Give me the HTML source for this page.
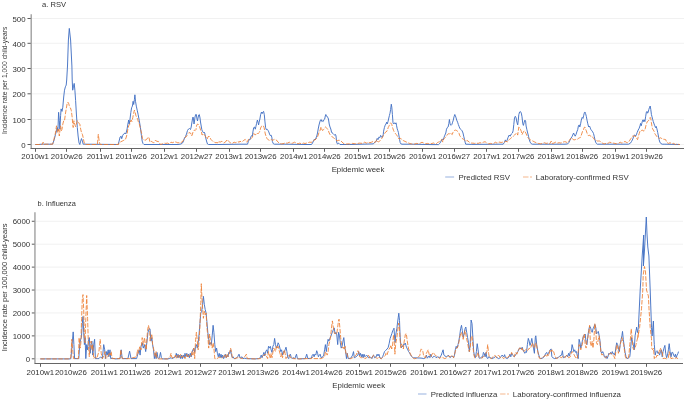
<!DOCTYPE html>
<html><head><meta charset="utf-8"><style>
html,body{margin:0;padding:0;background:#fff;}
svg{display:block;}
</style></head><body>
<svg width="685" height="400" viewBox="0 0 685 400" font-family='"Liberation Sans", sans-serif' fill="#333333">
<rect width="685" height="400" fill="#fff"/>
<text x="42.00" y="7.00" font-size="7.1" textLength="24.07" lengthAdjust="spacingAndGlyphs">a. RSV</text>
<line x1="32" y1="144.50" x2="684" y2="144.50" stroke="#eeeeee" stroke-width="0.8"/>
<line x1="32" y1="119.50" x2="684" y2="119.50" stroke="#eeeeee" stroke-width="0.8"/>
<line x1="32" y1="93.80" x2="684" y2="93.80" stroke="#eeeeee" stroke-width="0.8"/>
<line x1="32" y1="68.50" x2="684" y2="68.50" stroke="#eeeeee" stroke-width="0.8"/>
<line x1="32" y1="43.30" x2="684" y2="43.30" stroke="#eeeeee" stroke-width="0.8"/>
<line x1="32" y1="18.50" x2="684" y2="18.50" stroke="#eeeeee" stroke-width="0.8"/>
<line x1="27.5" y1="144.50" x2="31" y2="144.50" stroke="#333" stroke-width="0.8"/>
<text x="25.60" y="147.70" font-size="8.0" text-anchor="end" textLength="4.36" lengthAdjust="spacingAndGlyphs">0</text>
<line x1="27.5" y1="119.50" x2="31" y2="119.50" stroke="#333" stroke-width="0.8"/>
<text x="25.60" y="122.70" font-size="8.0" text-anchor="end" textLength="13.09" lengthAdjust="spacingAndGlyphs">100</text>
<line x1="27.5" y1="93.80" x2="31" y2="93.80" stroke="#333" stroke-width="0.8"/>
<text x="25.60" y="97.00" font-size="8.0" text-anchor="end" textLength="13.09" lengthAdjust="spacingAndGlyphs">200</text>
<line x1="27.5" y1="68.50" x2="31" y2="68.50" stroke="#333" stroke-width="0.8"/>
<text x="25.60" y="71.70" font-size="8.0" text-anchor="end" textLength="13.09" lengthAdjust="spacingAndGlyphs">300</text>
<line x1="27.5" y1="43.30" x2="31" y2="43.30" stroke="#333" stroke-width="0.8"/>
<text x="25.60" y="46.50" font-size="8.0" text-anchor="end" textLength="13.09" lengthAdjust="spacingAndGlyphs">400</text>
<line x1="27.5" y1="18.50" x2="31" y2="18.50" stroke="#333" stroke-width="0.8"/>
<text x="25.60" y="21.70" font-size="8.0" text-anchor="end" textLength="13.09" lengthAdjust="spacingAndGlyphs">500</text>
<line x1="31.2" y1="14.2" x2="31.2" y2="148.5" stroke="#999" stroke-width="1.3"/>
<line x1="30.5" y1="148.5" x2="684" y2="148.5" stroke="#666" stroke-width="1"/>
<line x1="35.5" y1="148.5" x2="35.5" y2="151.8" stroke="#606060" stroke-width="1"/>
<text x="35.10" y="159.00" font-size="7.8" text-anchor="middle" textLength="27.48" lengthAdjust="spacingAndGlyphs">2010w1</text>
<line x1="66.5" y1="148.5" x2="66.5" y2="151.8" stroke="#606060" stroke-width="1"/>
<text x="66.70" y="159.00" font-size="7.8" text-anchor="middle" textLength="31.84" lengthAdjust="spacingAndGlyphs">2010w26</text>
<line x1="100.5" y1="148.5" x2="100.5" y2="151.8" stroke="#606060" stroke-width="1"/>
<text x="100.10" y="159.00" font-size="7.8" text-anchor="middle" textLength="26.90" lengthAdjust="spacingAndGlyphs">2011w1</text>
<line x1="131.5" y1="148.5" x2="131.5" y2="151.8" stroke="#606060" stroke-width="1"/>
<text x="131.20" y="159.00" font-size="7.8" text-anchor="middle" textLength="31.26" lengthAdjust="spacingAndGlyphs">2011w26</text>
<line x1="164.5" y1="148.5" x2="164.5" y2="151.8" stroke="#606060" stroke-width="1"/>
<text x="164.30" y="159.00" font-size="7.8" text-anchor="middle" textLength="27.48" lengthAdjust="spacingAndGlyphs">2012w1</text>
<line x1="196.5" y1="148.5" x2="196.5" y2="151.8" stroke="#606060" stroke-width="1"/>
<text x="196.80" y="159.00" font-size="7.8" text-anchor="middle" textLength="31.84" lengthAdjust="spacingAndGlyphs">2012w27</text>
<line x1="229.5" y1="148.5" x2="229.5" y2="151.8" stroke="#606060" stroke-width="1"/>
<text x="229.10" y="159.00" font-size="7.8" text-anchor="middle" textLength="27.48" lengthAdjust="spacingAndGlyphs">2013w1</text>
<line x1="260.5" y1="148.5" x2="260.5" y2="151.8" stroke="#606060" stroke-width="1"/>
<text x="260.60" y="159.00" font-size="7.8" text-anchor="middle" textLength="31.84" lengthAdjust="spacingAndGlyphs">2013w26</text>
<line x1="293.5" y1="148.5" x2="293.5" y2="151.8" stroke="#606060" stroke-width="1"/>
<text x="293.80" y="159.00" font-size="7.8" text-anchor="middle" textLength="27.48" lengthAdjust="spacingAndGlyphs">2014w1</text>
<line x1="324.5" y1="148.5" x2="324.5" y2="151.8" stroke="#606060" stroke-width="1"/>
<text x="324.80" y="159.00" font-size="7.8" text-anchor="middle" textLength="31.84" lengthAdjust="spacingAndGlyphs">2014w26</text>
<line x1="358.5" y1="148.5" x2="358.5" y2="151.8" stroke="#606060" stroke-width="1"/>
<text x="358.00" y="159.00" font-size="7.8" text-anchor="middle" textLength="27.48" lengthAdjust="spacingAndGlyphs">2015w1</text>
<line x1="389.5" y1="148.5" x2="389.5" y2="151.8" stroke="#606060" stroke-width="1"/>
<text x="389.60" y="159.00" font-size="7.8" text-anchor="middle" textLength="31.84" lengthAdjust="spacingAndGlyphs">2015w26</text>
<line x1="422.5" y1="148.5" x2="422.5" y2="151.8" stroke="#606060" stroke-width="1"/>
<text x="422.70" y="159.00" font-size="7.8" text-anchor="middle" textLength="27.48" lengthAdjust="spacingAndGlyphs">2016w1</text>
<line x1="454.5" y1="148.5" x2="454.5" y2="151.8" stroke="#606060" stroke-width="1"/>
<text x="454.30" y="159.00" font-size="7.8" text-anchor="middle" textLength="31.84" lengthAdjust="spacingAndGlyphs">2016w27</text>
<line x1="486.5" y1="148.5" x2="486.5" y2="151.8" stroke="#606060" stroke-width="1"/>
<text x="487.00" y="159.00" font-size="7.8" text-anchor="middle" textLength="27.48" lengthAdjust="spacingAndGlyphs">2017w1</text>
<line x1="518.5" y1="148.5" x2="518.5" y2="151.8" stroke="#606060" stroke-width="1"/>
<text x="518.50" y="159.00" font-size="7.8" text-anchor="middle" textLength="31.84" lengthAdjust="spacingAndGlyphs">2017w26</text>
<line x1="551.5" y1="148.5" x2="551.5" y2="151.8" stroke="#606060" stroke-width="1"/>
<text x="551.20" y="159.00" font-size="7.8" text-anchor="middle" textLength="27.48" lengthAdjust="spacingAndGlyphs">2018w1</text>
<line x1="582.5" y1="148.5" x2="582.5" y2="151.8" stroke="#606060" stroke-width="1"/>
<text x="582.30" y="159.00" font-size="7.8" text-anchor="middle" textLength="31.84" lengthAdjust="spacingAndGlyphs">2018w26</text>
<line x1="615.5" y1="148.5" x2="615.5" y2="151.8" stroke="#606060" stroke-width="1"/>
<text x="615.90" y="159.00" font-size="7.8" text-anchor="middle" textLength="27.48" lengthAdjust="spacingAndGlyphs">2019w1</text>
<line x1="646.5" y1="148.5" x2="646.5" y2="151.8" stroke="#606060" stroke-width="1"/>
<text x="647.00" y="159.00" font-size="7.8" text-anchor="middle" textLength="31.84" lengthAdjust="spacingAndGlyphs">2019w26</text>
<text x="358.00" y="172.00" font-size="7.4" text-anchor="middle" textLength="52.75" lengthAdjust="spacingAndGlyphs">Epidemic week</text>
<text transform="translate(7.10,80.35) rotate(-90)" font-size="6.75" text-anchor="middle" textLength="107.31" lengthAdjust="spacingAndGlyphs">Incidence rate per 1,000 child-years</text>
<polyline points="35.3,144.5 38.8,144.5 42.3,144.1 45.0,144.2 52.6,144.2 54.3,139.4 55.5,134.3 56.5,130.9 57.2,127.5 57.9,130.9 58.6,112.3 59.3,120.7 59.9,129.2 60.6,115.7 61.1,108.9 62.0,111.4 62.8,107.2 63.7,97.0 64.5,90.2 65.4,86.8 66.2,85.1 66.7,80.0 67.5,66.0 68.4,40.0 69.3,28.4 70.6,40.0 71.9,66.0 72.2,80.0 72.7,90.2 73.4,86.8 74.2,83.4 74.9,90.2 75.6,100.4 76.4,114.0 77.3,127.5 78.1,136.0 79.0,142.8 79.8,144.5 80.7,141.1 81.5,138.6 82.4,141.1 83.2,144.2 84.9,144.2 118.1,144.5 118.9,141.9 120.1,137.0 121.1,136.2 121.7,138.7 122.7,135.4 123.8,133.8 125.0,133.0 125.9,133.8 127.1,128.9 127.9,124.0 128.7,120.0 129.2,124.0 129.8,120.8 130.8,112.6 131.6,107.8 132.4,106.1 133.1,101.3 133.7,104.5 134.4,99.6 134.9,94.8 135.5,101.3 136.3,106.1 137.2,110.2 138.1,114.3 139.3,120.8 140.4,127.3 141.4,135.4 142.2,141.1 143.0,143.5 144.0,144.5 150.0,144.5 178.0,144.5 181.0,144.0 182.5,143.0 183.5,141.0 184.5,138.0 185.5,136.5 186.5,134.0 187.5,130.5 188.5,129.0 189.5,128.5 190.5,129.5 191.2,127.0 191.8,123.0 192.5,119.0 193.0,117.0 193.5,119.0 194.0,124.0 194.5,121.0 195.0,117.0 195.7,114.5 196.3,114.5 197.0,119.0 197.5,121.0 198.0,118.0 198.7,115.0 199.3,114.5 200.0,118.0 200.5,122.0 201.2,126.0 201.8,129.5 202.5,131.5 203.2,132.5 204.0,132.0 204.7,133.0 205.3,136.0 206.0,139.0 206.8,142.0 207.5,144.0 208.5,144.5 217.9,144.5 240.0,144.2 247.5,144.2 248.4,141.5 249.1,139.4 249.9,139.9 250.7,137.2 251.6,135.6 252.4,136.1 252.9,131.9 253.7,127.6 254.5,127.0 255.3,129.2 255.9,126.5 256.6,123.3 257.4,120.0 258.0,122.2 258.6,124.9 259.1,122.2 259.9,119.0 260.6,114.7 261.5,112.0 262.2,113.6 262.9,112.0 263.6,111.4 264.3,114.7 264.9,121.1 265.6,127.6 266.3,129.7 267.1,129.2 267.9,130.2 268.8,131.9 269.5,134.0 270.3,135.6 271.1,135.1 271.8,137.2 272.4,141.5 273.3,143.7 274.4,144.2 284.9,144.2 305.0,144.5 311.5,144.5 312.5,143.0 313.5,141.0 314.5,139.0 315.2,140.0 316.0,138.0 316.8,136.0 317.5,133.0 318.2,129.0 319.0,125.0 319.8,122.0 320.5,120.0 321.2,119.5 321.8,121.5 322.5,121.0 323.2,121.5 324.0,119.5 324.7,119.0 325.3,116.0 325.8,114.5 326.5,115.5 327.2,117.0 328.0,117.5 328.6,120.0 329.2,124.0 330.0,127.0 330.8,129.0 331.5,132.0 332.2,133.0 333.0,133.5 333.8,134.5 334.6,135.0 335.5,134.5 336.0,136.0 336.5,141.0 337.0,143.5 337.8,144.0 338.5,143.0 339.2,143.5 340.0,144.5 349.9,144.5 373.4,143.9 375.0,142.0 376.2,141.4 377.2,138.4 378.0,139.6 378.8,137.2 379.8,137.8 380.6,135.4 381.6,137.2 382.4,137.2 383.2,134.8 383.6,131.2 384.4,127.6 385.2,125.2 386.0,124.0 386.6,122.2 387.2,124.0 388.0,121.6 388.8,118.0 389.4,115.6 390.0,113.2 390.6,109.6 391.3,104.2 391.8,107.2 392.4,114.4 393.0,122.8 393.6,124.0 394.2,123.4 394.8,122.8 395.4,124.0 396.0,122.8 396.6,125.8 397.2,128.8 397.8,130.6 398.4,132.4 399.0,136.0 399.6,139.6 400.2,142.6 400.8,143.8 402.0,144.2 411.9,144.2 432.0,144.6 438.5,144.6 439.5,143.7 440.6,142.1 441.7,140.0 442.5,138.9 443.3,140.0 444.0,137.3 444.9,135.1 445.8,133.0 446.5,129.2 447.3,127.6 448.1,127.0 448.9,123.3 449.4,119.5 450.0,123.3 450.5,124.9 451.1,125.4 451.9,124.4 452.6,122.2 453.3,120.1 454.0,116.8 454.8,114.5 455.4,115.8 456.1,117.9 456.7,120.1 457.6,122.2 458.3,124.4 459.1,126.5 459.7,128.1 460.5,129.2 461.2,129.7 462.1,130.8 463.0,133.0 463.7,136.2 464.5,139.4 465.1,142.1 465.7,144.2 471.9,144.4 500.0,144.2 503.2,144.2 504.3,142.6 505.4,139.9 506.2,141.6 507.0,140.5 508.1,137.3 509.1,135.1 510.2,136.2 511.3,134.0 512.4,133.0 513.1,130.8 513.8,124.4 514.5,117.9 515.3,116.3 516.1,117.9 516.9,122.2 517.7,124.9 518.3,120.1 518.8,114.7 519.6,112.0 520.4,111.5 521.3,113.1 522.0,116.8 522.8,123.8 523.4,125.4 524.2,122.2 524.9,120.1 525.6,121.1 526.1,126.0 526.9,129.7 527.7,133.0 528.5,136.2 529.2,139.4 530.1,142.1 531.2,143.7 532.3,144.2 539.9,144.2 565.0,144.2 567.7,143.9 568.8,142.6 569.8,140.5 570.9,138.3 572.0,136.7 572.7,135.1 573.6,133.0 574.5,135.1 575.2,136.2 576.0,134.6 576.8,131.9 577.7,129.7 578.4,126.0 579.2,124.9 579.8,127.0 580.6,123.8 581.3,120.1 582.2,117.4 583.0,118.4 583.6,115.8 584.4,112.5 585.0,112.0 585.6,113.6 586.3,116.3 587.0,120.1 587.8,123.8 588.7,127.0 589.5,126.0 590.3,128.1 591.0,129.7 591.9,130.8 592.7,131.9 593.5,133.5 594.2,136.2 594.9,139.4 595.6,142.1 596.4,143.5 597.3,144.2 604.9,144.2 625.0,144.2 628.6,144.2 630.4,143.2 631.6,141.4 632.8,139.0 633.6,136.6 634.6,134.8 635.6,136.0 636.4,134.8 637.2,132.4 638.2,130.0 639.2,128.2 640.0,125.8 640.6,123.4 641.2,125.8 641.8,123.4 642.4,121.0 643.0,119.8 643.6,121.6 644.2,119.8 644.9,121.6 645.6,116.8 646.4,112.0 647.0,111.4 647.6,113.2 648.2,112.0 648.8,109.6 649.6,107.2 650.2,106.0 650.8,109.6 651.4,114.4 652.0,116.8 652.6,119.2 653.3,121.6 654.1,124.0 654.8,125.8 655.5,127.6 656.2,126.4 656.9,128.8 657.7,132.4 658.4,136.0 659.1,139.6 659.8,142.0 660.8,143.5 662.2,144.2 664.9,144.2 679.8,144.5" fill="none" stroke="#4472C4" stroke-width="0.95" stroke-linejoin="round"/>
<polyline points="35.3,144.5 42.3,144.5 43.1,142.2 44.0,144.5 45.0,144.2 52.6,144.2 53.5,141.1 54.3,137.7 55.2,134.3 56.0,129.2 56.5,125.8 57.2,130.9 57.9,132.6 58.6,129.2 59.3,136.0 59.9,130.9 60.6,125.8 61.3,130.9 62.0,129.2 62.8,124.1 63.7,120.7 64.5,120.7 65.4,114.0 66.2,108.9 67.1,103.8 67.9,102.1 68.8,103.8 69.6,107.2 70.5,108.0 71.3,110.6 72.2,117.4 72.7,124.1 73.2,127.5 73.9,120.7 74.7,124.1 75.6,126.7 76.4,124.1 77.3,120.7 78.1,121.6 79.0,123.3 79.8,124.1 80.7,129.2 81.5,132.6 82.4,134.3 83.2,137.7 84.0,142.0 84.9,144.2 86.1,144.5 97.4,144.5 98.3,134.3 99.2,141.3 100.1,144.5 118.5,144.5 119.0,142.7 120.6,141.9 122.2,141.1 123.8,140.3 125.4,139.5 126.3,137.0 127.1,133.8 127.9,128.9 128.7,125.7 129.5,124.8 130.3,122.4 131.1,120.0 131.9,121.6 132.8,117.5 133.6,113.5 134.4,110.2 135.2,112.6 136.0,115.9 136.8,117.5 137.6,119.1 138.5,122.4 139.3,124.0 140.1,127.3 140.9,130.5 141.7,133.8 142.5,138.7 143.3,139.5 145.0,140.3 146.6,139.5 148.2,137.0 149.0,137.8 150.0,142.2 151.8,141.3 153.5,143.1 155.3,140.4 157.0,141.3 158.8,141.7 160.5,144.5 162.3,143.9 164.0,143.1 165.8,143.4 167.5,143.1 169.3,143.9 171.0,142.2 172.8,142.7 174.5,141.7 176.3,142.2 178.0,143.0 179.0,142.5 180.0,143.0 181.0,142.5 182.0,142.0 183.0,141.0 184.0,139.0 185.0,137.5 186.0,137.0 187.0,135.5 188.0,133.5 189.0,132.5 190.0,133.0 191.0,133.5 191.5,136.0 192.2,135.0 193.0,132.0 193.8,131.0 194.5,130.0 195.2,130.5 196.0,129.5 196.5,126.0 197.0,124.5 197.8,124.0 198.5,125.0 199.2,126.0 200.0,128.0 200.7,130.5 201.5,132.0 202.0,135.0 202.8,134.5 203.5,133.5 204.2,134.5 205.0,135.5 205.8,137.0 206.5,138.0 207.2,139.0 208.0,137.0 208.8,136.0 209.5,137.0 210.2,138.0 211.0,139.5 212.0,140.5 213.0,141.5 214.0,142.0 215.0,142.5 216.0,142.8 217.0,142.5 217.9,143.0 218.3,141.3 220.1,142.2 221.8,141.3 223.6,143.1 225.3,142.2 227.1,139.6 228.8,141.3 230.6,143.1 232.3,143.4 234.1,142.2 235.8,142.7 237.6,141.7 239.3,142.2 240.0,141.0 241.1,142.1 242.1,141.6 243.2,141.0 244.3,139.9 245.2,139.4 245.9,140.4 246.7,142.1 247.5,141.6 248.4,139.4 249.1,139.9 250.2,139.4 251.3,138.3 252.4,137.2 253.1,135.1 253.7,133.5 254.5,134.0 255.3,135.1 256.1,134.0 257.0,133.1 257.7,134.0 258.5,133.1 259.3,132.4 260.0,130.8 260.6,128.1 261.3,126.5 262.0,125.9 262.8,125.4 263.4,125.9 264.1,127.6 264.7,130.8 265.3,134.0 266.0,136.1 266.9,138.3 267.7,139.4 268.6,139.9 269.5,140.4 270.4,139.9 271.4,139.4 272.2,140.4 273.3,139.9 274.4,139.4 275.4,139.4 276.3,139.9 277.1,141.0 278.1,142.1 279.2,143.1 280.3,143.7 281.4,143.9 283.0,143.7 284.9,143.1 287.5,143.1 289.3,142.2 291.0,143.4 292.8,143.1 294.5,142.2 296.3,143.1 298.0,143.9 299.8,143.1 301.5,143.9 303.3,143.1 305.0,143.5 307.0,143.0 308.5,142.5 310.0,142.0 311.0,142.5 312.0,142.0 313.0,141.0 314.0,140.0 315.0,140.0 316.0,139.0 316.8,138.0 317.5,137.0 318.2,135.0 319.0,132.5 319.8,131.0 320.5,129.0 321.0,127.0 321.5,128.0 322.0,130.0 322.8,130.5 323.6,129.5 324.5,128.0 325.5,127.0 326.2,127.5 327.0,128.5 327.8,129.5 328.5,131.0 329.2,133.0 330.0,134.5 330.8,135.5 331.5,136.0 332.5,137.0 333.5,138.0 334.5,138.5 335.5,139.0 336.2,140.0 337.0,141.0 338.0,140.5 339.0,140.2 340.0,140.5 341.0,141.0 342.0,142.0 343.0,143.0 344.0,143.8 345.0,144.2 347.0,144.0 348.5,143.8 349.9,144.0 352.3,143.4 355.8,143.9 359.3,143.1 362.9,143.4 364.6,142.2 366.4,143.1 368.1,142.2 369.9,142.7 371.6,142.2 373.4,141.3 375.0,142.6 376.2,140.8 376.8,139.6 377.4,141.4 378.6,142.0 379.8,140.8 381.0,139.6 382.2,137.8 383.4,135.4 384.6,133.6 385.8,131.8 387.0,131.2 387.6,129.4 388.2,127.6 388.8,126.4 389.4,125.2 390.0,124.0 390.6,122.8 391.2,123.4 391.8,124.6 392.4,127.0 393.0,128.8 393.6,130.6 394.2,131.8 394.8,133.0 395.4,133.6 396.0,134.2 396.6,134.8 397.2,136.0 397.8,137.2 398.4,138.2 399.0,139.0 400.2,138.4 401.4,139.0 402.6,140.2 403.8,140.8 405.0,141.4 406.2,142.0 407.4,142.3 408.6,143.0 409.8,143.5 411.0,143.8 411.9,144.0 413.3,144.5 415.0,143.9 416.8,143.4 418.5,143.9 420.3,143.1 422.0,142.2 423.8,143.1 425.6,143.9 427.3,143.4 429.1,143.9 430.8,143.4 432.0,143.7 433.1,142.8 434.2,143.5 435.2,143.2 436.3,143.7 437.4,142.6 438.5,142.1 439.5,141.6 440.6,140.5 441.7,139.4 442.8,142.1 443.6,139.4 444.4,138.3 445.4,137.3 446.5,136.2 447.3,134.6 448.1,134.0 449.0,133.5 449.7,134.0 450.5,133.0 451.4,134.0 452.2,134.6 453.0,132.4 454.0,130.8 454.8,130.3 455.7,130.1 456.7,130.6 457.6,131.3 458.3,131.9 459.1,133.5 459.7,135.6 460.5,136.7 461.2,137.3 462.1,138.3 463.0,139.2 463.7,139.4 464.8,140.3 465.9,141.6 466.9,140.5 468.0,141.0 469.1,142.1 470.2,142.6 471.9,143.2 472.9,143.1 474.6,143.4 476.4,143.1 478.1,143.4 479.9,142.7 481.6,143.1 483.4,142.2 485.1,141.7 486.9,143.1 488.6,143.9 490.4,143.4 492.1,143.9 493.9,143.4 495.3,142.2 497.0,143.1 498.8,142.2 500.0,142.1 501.1,142.6 502.2,142.1 503.2,142.6 504.3,142.1 505.4,141.6 506.2,141.0 507.0,142.1 507.7,141.6 508.6,140.0 509.5,139.4 510.2,138.9 511.3,137.8 512.4,137.3 513.4,136.2 514.5,135.1 515.6,134.0 516.3,133.0 517.2,133.5 517.7,135.1 518.3,130.8 518.8,127.0 519.6,127.6 520.4,129.2 521.3,131.3 522.0,134.6 522.8,133.0 523.7,131.3 524.5,130.8 525.3,131.9 526.0,133.5 526.9,135.6 527.7,137.3 528.5,138.3 529.6,139.4 530.6,140.0 531.7,140.5 532.8,141.0 533.9,141.6 534.9,142.1 536.0,142.6 537.1,143.2 538.7,143.5 539.9,143.7 540.8,143.9 542.6,143.4 544.3,142.7 546.1,143.4 547.8,143.1 549.6,143.9 551.3,141.0 552.2,143.4 553.9,143.1 555.7,142.2 557.4,143.1 559.2,142.7 561.0,143.1 562.7,142.2 564.5,141.7 565.0,141.6 566.1,142.1 567.2,142.6 568.2,142.1 569.3,140.5 570.4,138.9 571.2,137.8 572.0,138.3 573.1,139.4 574.1,140.0 575.2,139.4 576.3,140.0 577.4,139.4 578.4,138.3 579.5,137.8 580.6,137.3 581.3,135.1 582.0,133.0 582.7,130.8 583.5,129.7 584.1,127.6 584.9,127.0 585.6,129.2 586.3,130.8 587.0,133.0 587.8,135.1 588.7,135.6 589.5,135.1 590.3,136.2 591.0,135.6 591.9,136.2 592.7,137.3 593.5,138.3 594.2,139.4 595.1,140.0 596.2,140.5 597.3,141.0 598.3,141.0 599.4,141.0 600.5,141.6 601.6,142.6 602.6,143.2 603.7,143.7 604.9,143.9 606.2,143.1 607.9,143.4 609.7,142.2 611.4,142.7 613.2,143.1 614.9,143.4 616.7,143.9 618.4,143.4 620.2,142.2 621.9,143.1 623.7,142.2 625.0,141.4 626.2,142.3 627.4,142.6 628.6,142.0 629.8,140.2 631.0,138.4 632.0,136.6 632.8,136.0 634.0,136.0 635.2,136.0 636.0,137.2 636.8,139.0 637.6,139.6 638.4,136.0 639.2,133.6 640.0,131.2 640.8,130.0 641.8,130.6 642.8,130.0 643.6,131.2 644.4,130.6 645.2,128.8 646.0,125.2 646.6,123.4 647.3,121.6 648.0,121.0 648.8,120.4 649.6,119.2 650.2,117.4 650.8,118.6 651.4,122.8 652.0,126.4 652.6,128.8 653.3,130.0 654.1,131.2 654.8,133.6 655.6,134.8 656.5,136.0 657.4,137.2 658.4,137.8 659.3,138.4 660.4,137.8 661.6,138.4 662.8,139.6 664.0,139.0 664.9,139.6 665.7,139.6 666.6,142.2 668.4,143.4 670.1,142.7 671.9,143.9 673.6,143.4 675.4,144.5 677.1,143.9 678.9,144.5 679.8,144.5" fill="none" stroke="#ED7D31" stroke-width="0.85" stroke-dasharray="4.5 1.5" stroke-linejoin="round"/>
<line x1="445.2" y1="177" x2="454.1" y2="177" stroke="#4472C4" stroke-width="1" stroke-opacity="0.55"/>
<text x="458.50" y="179.60" font-size="7.6" textLength="51.45" lengthAdjust="spacingAndGlyphs">Predicted RSV</text>
<line x1="523" y1="177" x2="528.5" y2="177" stroke="#ED7D31" stroke-width="1" stroke-opacity="0.55"/>
<line x1="530" y1="177" x2="532" y2="177" stroke="#ED7D31" stroke-width="1" stroke-opacity="0.55"/>
<text x="535.80" y="179.60" font-size="7.6" textLength="92.86" lengthAdjust="spacingAndGlyphs">Laboratory-confirmed RSV</text>
<text x="37.60" y="206.30" font-size="7.1" textLength="38.18" lengthAdjust="spacingAndGlyphs">b. Influenza</text>
<line x1="36" y1="358.80" x2="683" y2="358.80" stroke="#eeeeee" stroke-width="0.8"/>
<line x1="36" y1="335.88" x2="683" y2="335.88" stroke="#eeeeee" stroke-width="0.8"/>
<line x1="36" y1="312.96" x2="683" y2="312.96" stroke="#eeeeee" stroke-width="0.8"/>
<line x1="36" y1="290.04" x2="683" y2="290.04" stroke="#eeeeee" stroke-width="0.8"/>
<line x1="36" y1="267.12" x2="683" y2="267.12" stroke="#eeeeee" stroke-width="0.8"/>
<line x1="36" y1="244.20" x2="683" y2="244.20" stroke="#eeeeee" stroke-width="0.8"/>
<line x1="36" y1="221.28" x2="683" y2="221.28" stroke="#eeeeee" stroke-width="0.8"/>
<line x1="31.8" y1="358.80" x2="35" y2="358.80" stroke="#333" stroke-width="0.8"/>
<text x="30.20" y="361.80" font-size="8.0" text-anchor="end" textLength="4.36" lengthAdjust="spacingAndGlyphs">0</text>
<line x1="31.8" y1="335.88" x2="35" y2="335.88" stroke="#333" stroke-width="0.8"/>
<text x="30.20" y="338.88" font-size="8.0" text-anchor="end" textLength="17.45" lengthAdjust="spacingAndGlyphs">1000</text>
<line x1="31.8" y1="312.96" x2="35" y2="312.96" stroke="#333" stroke-width="0.8"/>
<text x="30.20" y="315.96" font-size="8.0" text-anchor="end" textLength="17.45" lengthAdjust="spacingAndGlyphs">2000</text>
<line x1="31.8" y1="290.04" x2="35" y2="290.04" stroke="#333" stroke-width="0.8"/>
<text x="30.20" y="293.04" font-size="8.0" text-anchor="end" textLength="17.45" lengthAdjust="spacingAndGlyphs">3000</text>
<line x1="31.8" y1="267.12" x2="35" y2="267.12" stroke="#333" stroke-width="0.8"/>
<text x="30.20" y="270.12" font-size="8.0" text-anchor="end" textLength="17.45" lengthAdjust="spacingAndGlyphs">4000</text>
<line x1="31.8" y1="244.20" x2="35" y2="244.20" stroke="#333" stroke-width="0.8"/>
<text x="30.20" y="247.20" font-size="8.0" text-anchor="end" textLength="17.45" lengthAdjust="spacingAndGlyphs">5000</text>
<line x1="31.8" y1="221.28" x2="35" y2="221.28" stroke="#333" stroke-width="0.8"/>
<text x="30.20" y="224.28" font-size="8.0" text-anchor="end" textLength="17.45" lengthAdjust="spacingAndGlyphs">6000</text>
<line x1="34.95" y1="212.2" x2="34.95" y2="363.5" stroke="#999" stroke-width="1.3"/>
<line x1="34.5" y1="363.5" x2="683" y2="363.5" stroke="#666" stroke-width="1"/>
<line x1="40.5" y1="363.5" x2="40.5" y2="366.8" stroke="#606060" stroke-width="1"/>
<text x="40.30" y="374.90" font-size="7.8" text-anchor="middle" textLength="27.48" lengthAdjust="spacingAndGlyphs">2010w1</text>
<line x1="70.5" y1="363.5" x2="70.5" y2="366.8" stroke="#606060" stroke-width="1"/>
<text x="70.90" y="374.90" font-size="7.8" text-anchor="middle" textLength="31.84" lengthAdjust="spacingAndGlyphs">2010w26</text>
<line x1="104.5" y1="363.5" x2="104.5" y2="366.8" stroke="#606060" stroke-width="1"/>
<text x="104.30" y="374.90" font-size="7.8" text-anchor="middle" textLength="26.90" lengthAdjust="spacingAndGlyphs">2011w1</text>
<line x1="135.5" y1="363.5" x2="135.5" y2="366.8" stroke="#606060" stroke-width="1"/>
<text x="135.10" y="374.90" font-size="7.8" text-anchor="middle" textLength="31.26" lengthAdjust="spacingAndGlyphs">2011w26</text>
<line x1="168.5" y1="363.5" x2="168.5" y2="366.8" stroke="#606060" stroke-width="1"/>
<text x="168.30" y="374.90" font-size="7.8" text-anchor="middle" textLength="27.48" lengthAdjust="spacingAndGlyphs">2012w1</text>
<line x1="200.5" y1="363.5" x2="200.5" y2="366.8" stroke="#606060" stroke-width="1"/>
<text x="200.60" y="374.90" font-size="7.8" text-anchor="middle" textLength="31.84" lengthAdjust="spacingAndGlyphs">2012w27</text>
<line x1="231.5" y1="363.5" x2="231.5" y2="366.8" stroke="#606060" stroke-width="1"/>
<text x="231.90" y="374.90" font-size="7.8" text-anchor="middle" textLength="27.48" lengthAdjust="spacingAndGlyphs">2013w1</text>
<line x1="262.5" y1="363.5" x2="262.5" y2="366.8" stroke="#606060" stroke-width="1"/>
<text x="262.90" y="374.90" font-size="7.8" text-anchor="middle" textLength="31.84" lengthAdjust="spacingAndGlyphs">2013w26</text>
<line x1="296.5" y1="363.5" x2="296.5" y2="366.8" stroke="#606060" stroke-width="1"/>
<text x="296.10" y="374.90" font-size="7.8" text-anchor="middle" textLength="27.48" lengthAdjust="spacingAndGlyphs">2014w1</text>
<line x1="326.5" y1="363.5" x2="326.5" y2="366.8" stroke="#606060" stroke-width="1"/>
<text x="326.70" y="374.90" font-size="7.8" text-anchor="middle" textLength="31.84" lengthAdjust="spacingAndGlyphs">2014w26</text>
<line x1="359.5" y1="363.5" x2="359.5" y2="366.8" stroke="#606060" stroke-width="1"/>
<text x="359.20" y="374.90" font-size="7.8" text-anchor="middle" textLength="27.48" lengthAdjust="spacingAndGlyphs">2015w1</text>
<line x1="390.5" y1="363.5" x2="390.5" y2="366.8" stroke="#606060" stroke-width="1"/>
<text x="390.70" y="374.90" font-size="7.8" text-anchor="middle" textLength="31.84" lengthAdjust="spacingAndGlyphs">2015w26</text>
<line x1="423.5" y1="363.5" x2="423.5" y2="366.8" stroke="#606060" stroke-width="1"/>
<text x="423.90" y="374.90" font-size="7.8" text-anchor="middle" textLength="27.48" lengthAdjust="spacingAndGlyphs">2016w1</text>
<line x1="455.5" y1="363.5" x2="455.5" y2="366.8" stroke="#606060" stroke-width="1"/>
<text x="455.60" y="374.90" font-size="7.8" text-anchor="middle" textLength="31.84" lengthAdjust="spacingAndGlyphs">2016w27</text>
<line x1="488.5" y1="363.5" x2="488.5" y2="366.8" stroke="#606060" stroke-width="1"/>
<text x="488.00" y="374.90" font-size="7.8" text-anchor="middle" textLength="27.48" lengthAdjust="spacingAndGlyphs">2017w1</text>
<line x1="518.5" y1="363.5" x2="518.5" y2="366.8" stroke="#606060" stroke-width="1"/>
<text x="518.50" y="374.90" font-size="7.8" text-anchor="middle" textLength="31.84" lengthAdjust="spacingAndGlyphs">2017w26</text>
<line x1="551.5" y1="363.5" x2="551.5" y2="366.8" stroke="#606060" stroke-width="1"/>
<text x="551.20" y="374.90" font-size="7.8" text-anchor="middle" textLength="27.48" lengthAdjust="spacingAndGlyphs">2018w1</text>
<line x1="582.5" y1="363.5" x2="582.5" y2="366.8" stroke="#606060" stroke-width="1"/>
<text x="582.30" y="374.90" font-size="7.8" text-anchor="middle" textLength="31.84" lengthAdjust="spacingAndGlyphs">2018w26</text>
<line x1="615.5" y1="363.5" x2="615.5" y2="366.8" stroke="#606060" stroke-width="1"/>
<text x="615.50" y="374.90" font-size="7.8" text-anchor="middle" textLength="27.48" lengthAdjust="spacingAndGlyphs">2019w1</text>
<line x1="646.5" y1="363.5" x2="646.5" y2="366.8" stroke="#606060" stroke-width="1"/>
<text x="646.30" y="374.90" font-size="7.8" text-anchor="middle" textLength="31.84" lengthAdjust="spacingAndGlyphs">2019w26</text>
<text x="358.70" y="387.70" font-size="7.4" text-anchor="middle" textLength="52.75" lengthAdjust="spacingAndGlyphs">Epidemic week</text>
<text transform="translate(7.10,287.40) rotate(-90)" font-size="7.5" text-anchor="middle" textLength="127.58" lengthAdjust="spacingAndGlyphs">Incidence rate per 100,000 child-years</text>
<polyline points="40.3,358.9 70.0,358.9 70.9,358.6 72.1,344.6 73.2,331.9 73.9,344.6 74.6,358.6 78.8,358.6 79.7,344.6 80.6,339.3 81.4,337.6 82.3,323.5 83.0,316.5 83.7,332.3 84.4,344.6 85.1,337.6 85.8,358.6 86.7,344.6 87.6,349.8 88.4,341.1 89.3,337.6 90.2,353.3 91.1,344.6 91.9,341.1 92.8,355.1 93.7,344.6 94.6,339.3 95.4,358.6 97.2,358.6 98.9,358.6 100.7,356.8 102.4,358.6 103.7,344.6 104.7,349.8 105.4,358.6 106.5,351.6 107.2,355.1 108.2,349.8 108.9,356.8 110.0,349.8 110.7,358.6 112.1,358.2 115.6,358.9 120.0,358.6 121.2,349.8 122.2,358.6 127.9,358.6 129.6,351.2 131.0,358.6 136.6,358.6 138.0,353.3 139.2,349.8 140.1,355.1 141.0,346.3 142.2,342.8 143.3,348.1 144.5,344.6 145.7,351.6 146.8,342.8 148.0,332.3 149.2,328.8 150.0,328.8 150.9,341.1 151.8,337.6 152.6,344.6 153.5,349.8 154.4,358.6 155.3,353.3 156.1,358.6 157.0,352.4 157.9,357.7 158.8,358.6 159.6,356.8 160.5,352.4 161.4,357.7 162.3,358.9 167.5,358.9 169.3,358.6 171.0,357.7 171.9,358.6 173.7,357.7 175.4,356.8 176.3,353.3 177.2,357.7 178.0,354.2 178.9,357.7 179.8,355.1 180.7,358.6 181.5,355.1 182.4,358.6 183.3,355.1 184.2,357.7 185.0,353.3 185.9,356.8 186.8,353.3 187.7,356.8 188.5,354.2 189.4,357.7 190.3,353.3 191.2,356.8 192.0,352.4 192.9,349.8 193.8,348.1 194.7,352.4 195.6,346.3 196.4,344.6 197.3,348.1 198.2,342.8 199.1,334.0 199.9,323.5 200.8,313.0 201.7,311.3 202.6,304.3 203.4,296.3 204.3,304.3 205.2,309.5 206.1,313.0 206.9,321.8 207.8,332.3 208.7,339.3 209.6,344.6 210.4,342.8 211.3,344.6 212.2,335.8 213.1,325.3 213.9,332.3 214.8,344.6 215.7,351.6 216.6,348.1 217.4,353.3 218.3,356.8 219.2,353.3 220.1,357.7 221.0,354.2 221.8,357.7 222.7,355.1 223.6,358.6 224.5,356.8 225.3,354.2 226.2,357.7 227.1,355.1 228.0,356.8 228.8,352.4 229.7,353.3 230.6,349.8 231.5,355.1 232.3,357.7 233.2,356.8 234.1,358.6 235.8,358.6 237.6,356.8 239.0,354.2 240.2,358.2 242.0,356.8 242.9,358.6 244.6,358.2 246.4,358.6 255.1,358.9 258.6,358.6 260.4,357.7 261.2,355.1 262.1,357.7 263.0,355.1 263.9,352.4 264.8,355.9 265.6,351.6 266.8,349.8 267.6,353.3 268.5,346.3 269.4,348.1 270.3,346.3 271.1,349.8 272.0,352.4 272.9,346.3 273.8,344.6 274.6,338.4 275.5,344.6 276.4,348.1 277.3,346.3 278.1,342.8 279.0,344.6 279.9,348.1 280.8,351.6 281.6,349.8 282.5,355.1 283.4,351.6 284.3,352.4 285.1,349.8 286.0,347.2 286.9,351.6 287.8,357.7 288.7,358.6 289.5,355.1 290.4,354.2 291.3,357.7 292.2,358.6 293.0,357.7 294.8,358.6 296.5,354.2 297.4,358.6 299.2,358.9 305.3,358.6 306.7,354.2 307.9,358.6 311.4,358.2 312.3,355.1 313.2,354.2 314.1,356.8 314.9,354.2 315.8,355.1 316.7,350.7 317.6,353.3 318.4,356.8 319.3,355.1 320.2,354.2 321.1,357.7 322.8,356.8 323.7,355.1 324.6,349.8 325.4,344.6 326.3,351.6 327.2,344.6 328.1,339.3 328.9,341.1 329.8,338.4 330.7,336.7 331.6,334.0 332.4,332.3 333.3,329.7 334.2,327.9 335.1,334.0 336.0,332.3 336.8,334.9 337.7,344.6 338.6,332.3 339.5,335.8 340.3,342.8 341.2,348.1 342.1,346.3 343.0,341.1 343.8,337.6 344.7,346.3 345.6,351.6 346.5,358.6 347.3,353.3 348.2,358.6 350.8,358.2 352.6,355.1 353.5,351.6 354.3,357.7 356.1,356.8 357.9,355.1 358.7,351.6 359.6,355.9 360.5,353.3 361.4,356.8 362.2,354.2 363.1,357.7 364.0,354.2 364.9,356.8 366.6,355.1 368.4,357.7 370.1,356.8 371.9,358.6 372.7,355.9 373.6,355.1 374.5,357.7 376.2,356.8 377.1,354.2 378.0,355.9 378.9,354.2 380.0,358.0 381.3,358.7 382.6,356.8 383.6,354.2 384.5,351.6 385.8,350.3 387.1,349.0 388.1,347.7 389.1,343.8 390.1,338.6 391.0,336.0 391.9,333.4 392.7,330.8 393.4,329.5 394.0,328.2 394.5,336.0 395.1,342.5 395.6,336.0 396.2,332.1 396.9,328.2 397.5,323.0 398.2,317.8 398.8,313.2 399.5,320.4 400.1,336.0 400.8,345.1 401.4,347.7 402.1,346.4 402.7,347.0 403.4,345.1 404.0,343.8 404.7,344.4 405.3,343.1 406.0,345.7 406.6,347.7 407.5,349.0 408.6,351.6 409.6,352.9 410.5,354.8 411.4,356.1 412.5,357.4 413.5,357.8 419.9,358.0 422.0,358.2 423.8,358.6 425.6,357.7 426.4,355.1 427.3,358.2 429.1,355.9 429.9,357.7 430.8,354.2 431.7,356.8 432.6,357.7 434.3,355.9 436.1,357.7 437.8,356.8 439.6,357.7 441.3,355.1 442.2,352.4 443.1,349.8 443.9,355.1 444.8,355.9 446.6,356.8 448.3,355.1 450.1,357.7 451.8,355.9 453.6,357.7 454.5,355.1 455.3,349.8 456.2,346.3 457.1,348.1 458.0,344.6 458.8,341.1 459.7,335.8 460.6,328.8 461.5,325.3 462.3,330.5 463.2,337.6 464.1,334.0 465.0,328.8 465.8,327.0 466.7,332.3 467.6,337.6 468.5,342.8 469.3,351.6 470.2,344.6 471.1,320.0 472.0,323.5 472.9,337.6 473.7,351.6 474.6,356.8 475.5,357.7 476.4,351.6 477.2,343.7 478.1,349.8 479.0,357.7 479.9,358.6 481.6,356.8 482.5,357.7 483.4,352.4 484.2,353.3 485.1,356.8 486.0,352.4 486.9,357.7 487.7,358.6 488.6,356.8 490.4,357.7 492.1,358.6 493.9,357.7 495.6,356.5 498.5,358.6 500.3,357.7 502.0,355.1 503.8,356.8 504.6,354.7 505.5,357.7 507.3,358.6 509.0,356.8 509.9,354.2 510.8,356.8 511.6,353.3 512.5,355.1 514.3,356.8 516.0,354.2 517.8,351.6 519.5,348.1 521.3,348.9 522.2,347.2 523.0,349.8 523.9,351.6 524.8,353.3 525.7,351.6 526.5,352.4 527.4,344.6 528.3,338.4 529.2,341.1 530.0,345.4 530.9,342.8 531.8,338.4 532.7,344.6 533.5,348.1 534.4,353.3 535.3,337.6 535.8,335.8 536.7,344.6 537.9,351.6 538.8,355.1 539.7,357.7 540.6,358.6 542.3,358.2 544.1,356.8 545.8,353.3 546.7,352.4 547.6,355.1 548.4,353.3 549.3,351.6 550.2,349.8 551.1,348.9 551.9,356.8 552.8,357.7 554.6,358.6 556.3,358.2 558.1,357.7 559.8,355.9 561.6,355.1 562.4,350.7 563.3,357.7 565.1,356.8 566.8,355.1 567.7,356.8 568.6,353.3 569.5,355.9 570.3,351.6 571.2,352.4 572.1,344.6 573.0,348.1 573.8,351.6 574.7,349.8 575.6,352.4 576.5,351.6 577.3,355.9 578.2,358.6 579.1,339.3 580.0,342.8 580.8,348.1 581.7,344.6 582.6,339.3 583.5,335.8 584.3,334.9 585.2,334.0 586.1,342.8 587.0,344.6 587.9,335.8 588.7,330.5 589.6,326.2 590.4,327.0 591.3,330.5 592.2,332.3 593.0,328.8 593.9,327.0 594.8,324.4 595.7,327.0 596.5,334.0 597.4,332.3 598.3,331.4 599.2,335.8 600.0,341.1 600.9,351.6 601.8,353.3 602.7,351.6 603.5,353.3 604.4,356.8 605.3,357.7 606.2,355.9 607.0,358.6 607.9,356.8 608.8,353.3 609.7,354.2 610.6,352.4 611.4,354.2 612.3,351.6 613.2,354.2 614.1,353.3 614.9,355.1 615.8,348.1 616.7,342.8 617.6,344.6 618.4,348.1 619.3,351.6 620.2,344.6 621.1,339.3 621.9,335.8 622.5,331.4 623.3,339.3 624.2,346.3 625.1,352.4 626.0,356.8 627.2,358.6 628.9,357.7 629.8,356.8 630.7,348.1 631.6,337.6 632.4,341.1 633.3,344.6 634.2,349.8 635.1,335.8 636.0,330.5 636.8,327.0 636.5,327.5 637.5,332.5 638.4,327.5 640.2,290.0 642.2,256.0 643.7,235.0 643.4,266.0 644.5,250.0 646.3,217.0 647.0,234.0 647.8,247.0 648.9,256.0 650.2,290.0 651.5,327.5 652.1,336.0 653.4,321.0 654.0,340.0 654.3,344.6 655.2,355.1 656.1,351.6 657.0,350.7 657.9,353.3 658.7,352.4 659.6,355.1 660.5,351.6 661.4,349.8 662.2,356.8 663.1,351.6 664.0,348.1 664.9,345.4 665.7,353.3 666.6,357.7 667.5,355.1 668.4,349.8 669.2,343.7 670.1,351.6 671.0,356.8 671.9,352.4 672.7,352.4 673.6,355.1 674.5,356.8 675.4,354.2 676.2,357.7 677.1,355.1 678.0,353.3 678.5,351.6" fill="none" stroke="#4472C4" stroke-width="0.95" stroke-linejoin="round"/>
<polyline points="40.3,358.9 70.0,358.9 70.9,356.8 71.8,339.3 72.7,349.8 73.5,358.6 78.4,358.6 79.1,337.6 80.2,348.1 80.9,342.8 81.6,318.3 82.3,299.0 83.0,294.6 83.7,309.5 84.4,337.6 85.1,342.8 85.8,318.3 86.7,295.5 87.6,318.3 88.4,344.6 89.3,356.8 90.2,344.6 91.1,341.1 91.9,349.8 92.8,344.6 93.7,358.6 95.4,356.8 96.7,358.6 98.9,351.6 100.2,339.3 101.2,353.3 102.4,358.6 104.2,355.1 105.1,351.6 106.0,358.6 107.7,356.8 109.5,352.4 110.3,355.1 111.2,351.6 112.1,358.6 120.0,358.6 120.8,349.8 121.7,356.8 122.6,358.6 129.6,358.6 136.6,356.8 137.5,349.8 138.4,353.3 139.8,346.3 141.0,349.8 142.2,337.6 143.3,344.6 144.5,337.6 145.4,344.6 146.2,349.8 147.5,330.5 148.5,325.3 149.8,332.3 150.0,341.1 150.9,337.6 151.8,334.0 152.6,344.6 153.5,348.1 154.4,353.3 155.3,356.8 156.1,351.6 157.0,358.6 158.8,358.9 164.0,358.9 167.5,358.9 170.1,356.8 171.0,353.3 171.9,357.7 174.5,357.7 175.4,355.1 176.3,358.6 178.0,355.1 178.9,357.7 180.7,354.2 181.5,357.7 183.3,355.1 185.0,358.6 186.8,354.2 187.7,357.7 189.4,355.1 191.2,356.8 192.0,351.6 192.9,355.1 193.8,348.1 194.7,358.6 195.6,339.3 196.4,332.3 197.3,341.1 198.2,349.8 199.1,341.1 199.9,327.0 200.8,302.5 201.3,283.7 202.0,299.0 202.6,307.8 203.4,318.3 204.3,311.3 205.2,314.8 206.1,313.0 206.9,327.0 207.8,335.8 208.7,348.1 209.6,334.0 210.4,339.3 211.3,346.3 212.2,348.1 213.1,342.8 213.9,348.1 214.8,358.6 216.6,358.9 218.3,357.7 220.1,356.8 221.8,358.2 223.6,356.8 225.3,354.2 226.2,357.7 227.1,354.2 228.0,356.8 229.7,352.4 230.6,348.1 231.5,351.6 232.3,357.7 234.1,358.6 237.6,357.7 239.3,356.8 241.1,358.6 242.9,358.2 244.6,356.8 246.4,354.2 247.2,358.6 255.1,358.9 260.4,358.6 262.1,356.8 263.9,355.1 265.6,354.2 267.6,358.6 268.5,351.6 269.4,355.1 270.3,358.6 271.1,353.3 272.0,357.7 272.9,352.4 273.8,348.1 274.6,349.8 275.5,351.6 276.4,346.3 277.3,348.1 278.1,346.3 279.0,349.8 279.9,353.3 280.8,356.8 281.6,353.3 282.5,357.7 283.4,354.2 284.3,349.8 285.1,353.3 286.0,358.6 287.8,355.9 289.5,355.1 290.4,357.7 291.3,356.8 293.0,358.6 298.3,358.9 307.0,358.6 311.4,358.6 313.2,356.8 314.1,358.6 321.1,358.6 324.6,356.8 325.4,351.6 326.3,353.3 327.2,355.1 328.1,351.6 328.9,344.6 329.8,341.1 330.7,335.8 331.6,327.0 332.4,320.9 333.3,327.0 334.2,332.3 335.1,334.0 336.0,333.2 336.8,334.0 337.7,327.0 338.6,320.0 339.1,319.2 339.8,327.0 340.7,337.6 341.6,344.6 342.4,348.1 343.3,347.2 344.2,349.8 345.1,346.3 345.9,353.3 346.8,352.4 347.7,356.8 349.1,358.6 350.8,358.6 352.6,357.7 354.3,356.8 356.1,355.1 357.9,350.7 358.7,352.4 359.6,356.8 361.4,357.7 363.1,356.8 364.9,358.6 366.6,357.7 368.4,355.1 369.2,356.8 370.1,358.6 371.9,357.7 373.6,355.1 375.4,356.8 377.1,358.6 378.9,356.8 380.0,358.0 381.3,358.7 382.6,357.4 383.9,356.8 385.2,355.5 386.2,352.9 387.1,354.8 388.1,351.6 389.1,349.0 390.1,347.7 390.9,345.1 391.7,349.0 392.5,346.4 393.0,339.9 393.6,334.7 394.3,342.5 394.9,354.2 395.6,345.1 396.2,341.2 396.9,337.3 397.5,332.1 398.2,326.9 398.8,323.0 399.5,329.5 400.1,339.9 400.8,347.7 401.4,343.8 402.1,345.1 402.7,346.4 403.4,349.0 404.0,342.5 404.7,338.6 405.3,334.7 406.0,333.4 406.6,336.0 407.3,341.2 407.9,345.1 408.6,349.0 409.2,350.3 409.9,352.9 410.9,354.8 411.8,356.8 413.1,358.0 414.4,358.7 416.4,358.3 418.3,356.8 419.9,355.5 420.3,351.6 421.2,348.9 422.0,349.8 422.9,351.6 423.8,356.8 425.6,357.7 426.4,353.3 427.3,351.6 428.2,349.8 429.1,354.2 430.8,356.8 432.6,353.3 433.4,352.4 434.3,354.2 436.1,355.9 437.8,356.8 439.6,358.6 441.3,356.8 443.1,357.7 444.8,358.6 446.6,357.7 448.3,355.9 450.1,356.8 451.8,355.1 453.6,357.7 455.3,351.6 456.2,348.1 457.1,348.1 458.0,346.3 458.8,342.8 459.7,337.6 460.6,334.0 461.5,332.3 462.3,335.8 463.2,339.3 464.1,334.0 465.0,330.5 465.8,334.0 466.7,339.3 467.6,342.8 468.5,348.1 469.3,351.6 470.2,348.1 471.1,337.6 472.0,335.8 472.9,346.3 473.7,353.3 474.6,357.7 476.4,356.8 478.1,352.4 479.0,356.8 480.7,358.6 483.4,356.8 485.1,355.1 486.9,351.6 487.7,344.6 488.6,353.3 489.5,357.7 491.2,358.6 493.0,356.8 494.8,355.1 496.5,357.7 498.5,355.1 500.3,357.7 502.0,356.8 503.8,358.6 505.5,356.8 507.3,357.7 509.0,355.9 510.8,355.1 511.6,352.4 512.5,354.2 514.3,356.8 515.1,353.3 516.0,352.4 516.9,354.2 517.8,351.6 518.7,349.8 519.5,348.1 520.4,347.7 521.3,349.8 522.2,348.1 523.0,351.6 524.8,350.7 525.7,349.8 526.5,348.9 527.4,350.7 528.3,349.8 529.2,348.1 530.0,348.9 530.9,347.2 531.8,344.6 532.7,342.8 533.5,346.3 534.4,348.1 535.3,344.6 536.2,342.8 537.0,348.1 537.9,352.4 538.8,356.8 539.7,358.6 541.4,358.2 543.2,356.8 544.9,355.9 545.8,355.1 546.7,356.8 547.6,354.2 548.4,355.9 549.3,353.3 550.2,349.8 551.1,351.6 551.9,349.8 552.8,352.4 553.7,351.6 554.6,355.1 556.3,358.6 558.1,357.7 559.8,356.8 561.6,357.7 563.3,355.9 565.1,357.7 566.8,355.1 568.6,357.7 570.3,356.8 571.2,353.3 572.1,351.6 573.0,352.4 573.8,354.2 574.7,355.9 575.6,357.7 576.5,356.8 577.3,358.2 578.2,351.6 579.1,344.6 580.0,346.3 580.8,349.8 581.7,346.3 582.6,342.8 583.5,335.8 584.3,334.0 585.2,344.6 586.1,348.1 587.0,339.3 587.9,337.6 588.7,332.3 589.6,325.3 590.4,342.8 591.3,346.3 592.2,341.1 593.0,348.1 593.9,339.3 594.8,323.5 595.7,328.8 596.5,342.8 597.4,344.6 598.3,339.3 599.2,335.8 600.0,342.8 600.9,351.6 601.8,355.1 602.7,354.2 603.5,355.9 604.4,356.8 605.3,357.7 607.0,356.8 608.8,354.2 610.6,353.3 612.3,354.2 614.1,356.8 614.9,358.6 615.8,351.6 616.7,344.6 617.6,346.3 618.4,353.3 619.3,349.8 620.2,344.6 621.1,341.1 621.9,337.6 622.8,341.1 623.7,344.6 624.6,351.6 625.4,356.8 626.3,358.6 628.1,358.2 628.9,355.1 629.8,344.6 630.7,335.8 631.2,328.8 632.1,337.6 633.0,348.1 633.9,349.8 635.1,348.1 636.0,344.6 636.8,341.1 637.7,337.6 638.6,332.3 637.8,337.5 639.6,327.5 641.5,308.8 642.8,290.0 643.2,275.0 644.5,266.5 645.5,272.0 646.5,290.0 648.4,296.0 649.0,308.8 650.2,327.5 651.5,338.8 651.7,348.1 652.6,349.8 653.5,348.1 654.3,358.6 655.2,356.8 656.1,357.7 657.0,355.1 657.9,355.9 658.7,353.3 659.6,349.8 660.5,348.1 661.4,352.4 662.2,351.6 663.1,358.6 664.9,358.2 666.6,358.9 668.4,357.7 669.2,351.6 670.1,355.1 671.0,358.6 672.7,358.2 674.5,358.6 676.2,357.7 678.0,358.6" fill="none" stroke="#ED7D31" stroke-width="0.85" stroke-dasharray="4.5 1.5" stroke-linejoin="round"/>
<line x1="418" y1="394" x2="426.5" y2="394" stroke="#4472C4" stroke-width="1" stroke-opacity="0.55"/>
<text x="430.70" y="396.60" font-size="7.5" textLength="66.72" lengthAdjust="spacingAndGlyphs">Predicted influenza</text>
<line x1="500.1" y1="394" x2="505.5" y2="394" stroke="#ED7D31" stroke-width="1" stroke-opacity="0.55"/>
<line x1="507" y1="394" x2="509" y2="394" stroke="#ED7D31" stroke-width="1" stroke-opacity="0.55"/>
<text x="512.80" y="396.60" font-size="7.5" textLength="108.13" lengthAdjust="spacingAndGlyphs">Laboratory-confirmed influenza</text>
</svg>
</body></html>
